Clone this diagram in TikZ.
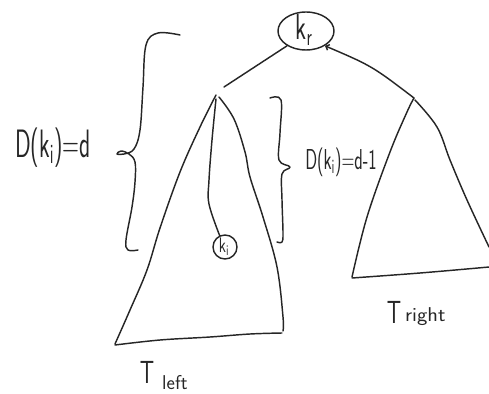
\documentclass[tikz,border=0pt]{standalone}
\usepackage{fontspec}
\usetikzlibrary{shapes.geometric,arrows.meta}
\begin{document}
\begin{tikzpicture}[x=1pt,y=-1pt,
  pen/.style={line width=1.45pt, line cap=round, line join=round, draw=black!85},
  hw/.style={inner sep=0pt, text=black!85, font=\sffamily},
  keynode/.style={pen, inner sep=0pt},
]
\useasboundingbox (0,0) rectangle (489,393);

% root key
\node[keynode, ellipse, minimum width=56pt, minimum height=38pt] (kr) at (306,31) {};
\node[hw] (krt) at (304,30) {\scalebox{1}[1.5]{\fontsize{24}{24}\selectfont k\textsubscript{r}}};

% apexes of the subtrees
\coordinate (la) at (216,95);
\coordinate (laend) at (224,87);
\coordinate (ra) at (414,98);

% edges from the root
\draw[pen] (kr.218) -- (laend);
\draw[pen, -{Straight Barb[length=3pt,width=6pt]}] (ra) .. controls (372,66) .. (kr.-38);

% left subtree
\draw[pen] plot[smooth, tension=0.6] coordinates {(la) (200,127) (180,172) (160,228) (147,270) (130,310) (115,344)};
\draw[pen] plot[smooth, tension=0.6] coordinates {(115,345) (160,340) (210,337) (250,334) (282,333)};
\draw[pen] plot[smooth, tension=0.6] coordinates {(283,331) (283,317) (277,267) (263,217) (250,177) (245,152) (234,119) (219,97)};

% k_i inside left subtree
\node[keynode, circle, minimum size=24pt] (ki) at (225,247) {};
\node[hw] (kit) at (224,247) {\scalebox{1}[1.4]{\fontsize{15}{15}\selectfont k\textsubscript{i}}};
\draw[pen] plot[smooth, tension=0.6] coordinates {(216,99) (212,140) (209,180) (209,204) (ki.115)};

% right subtree
\draw[pen] plot[smooth, tension=0.6] coordinates {(ra) (407,112) (390,152) (367,217) (352,277)};
\draw[pen] plot[smooth, tension=0.6] coordinates {(352,278) (420,273) (489,267)};
\draw[pen] plot[smooth, tension=0.6] coordinates {(415,100) (437,127) (450,160) (467,200) (489,247)};

% left brace
\draw[pen] plot[smooth, tension=0.6] coordinates {(180,35) (158,33) (146,45) (143,87) (140,130) (134,149) (124,154) (117,154) (121,151) (129,154) (135,162) (135,182) (132,207) (126,240) (128,250) (138,250)};
\node[hw] (dl) at (53,148) {\scalebox{1.05}[1.8]{\fontsize{22}{22}\selectfont D(k\textsubscript{i})=d}};

% right brace
\draw[pen] plot[smooth, tension=0.6] coordinates {(270,98) (281,100) (280,133) (279,160) (290,167) (282,174) (282,200) (283,233) (282,242) (277,242)};
\node[hw] (dr) at (341,162) {\scalebox{1.1}[1.8]{\fontsize{16}{16}\selectfont D(k\textsubscript{i})=d-1}};

% subtree labels
\node[hw] (tl) at (147,372) {\scalebox{0.7}[1]{\fontsize{32}{32}\selectfont T}};
\node[hw, anchor=base west] (tls) at (162,389) {\fontsize{20}{20}\selectfont left};
\node[hw] (tr) at (394,312) {\scalebox{0.7}[1]{\fontsize{32}{32}\selectfont T}};
\node[hw, anchor=base west] (trs) at (405,321) {\scalebox{1.1}[1]{\fontsize{20}{20}\selectfont right}};
\end{tikzpicture}
\end{document}
